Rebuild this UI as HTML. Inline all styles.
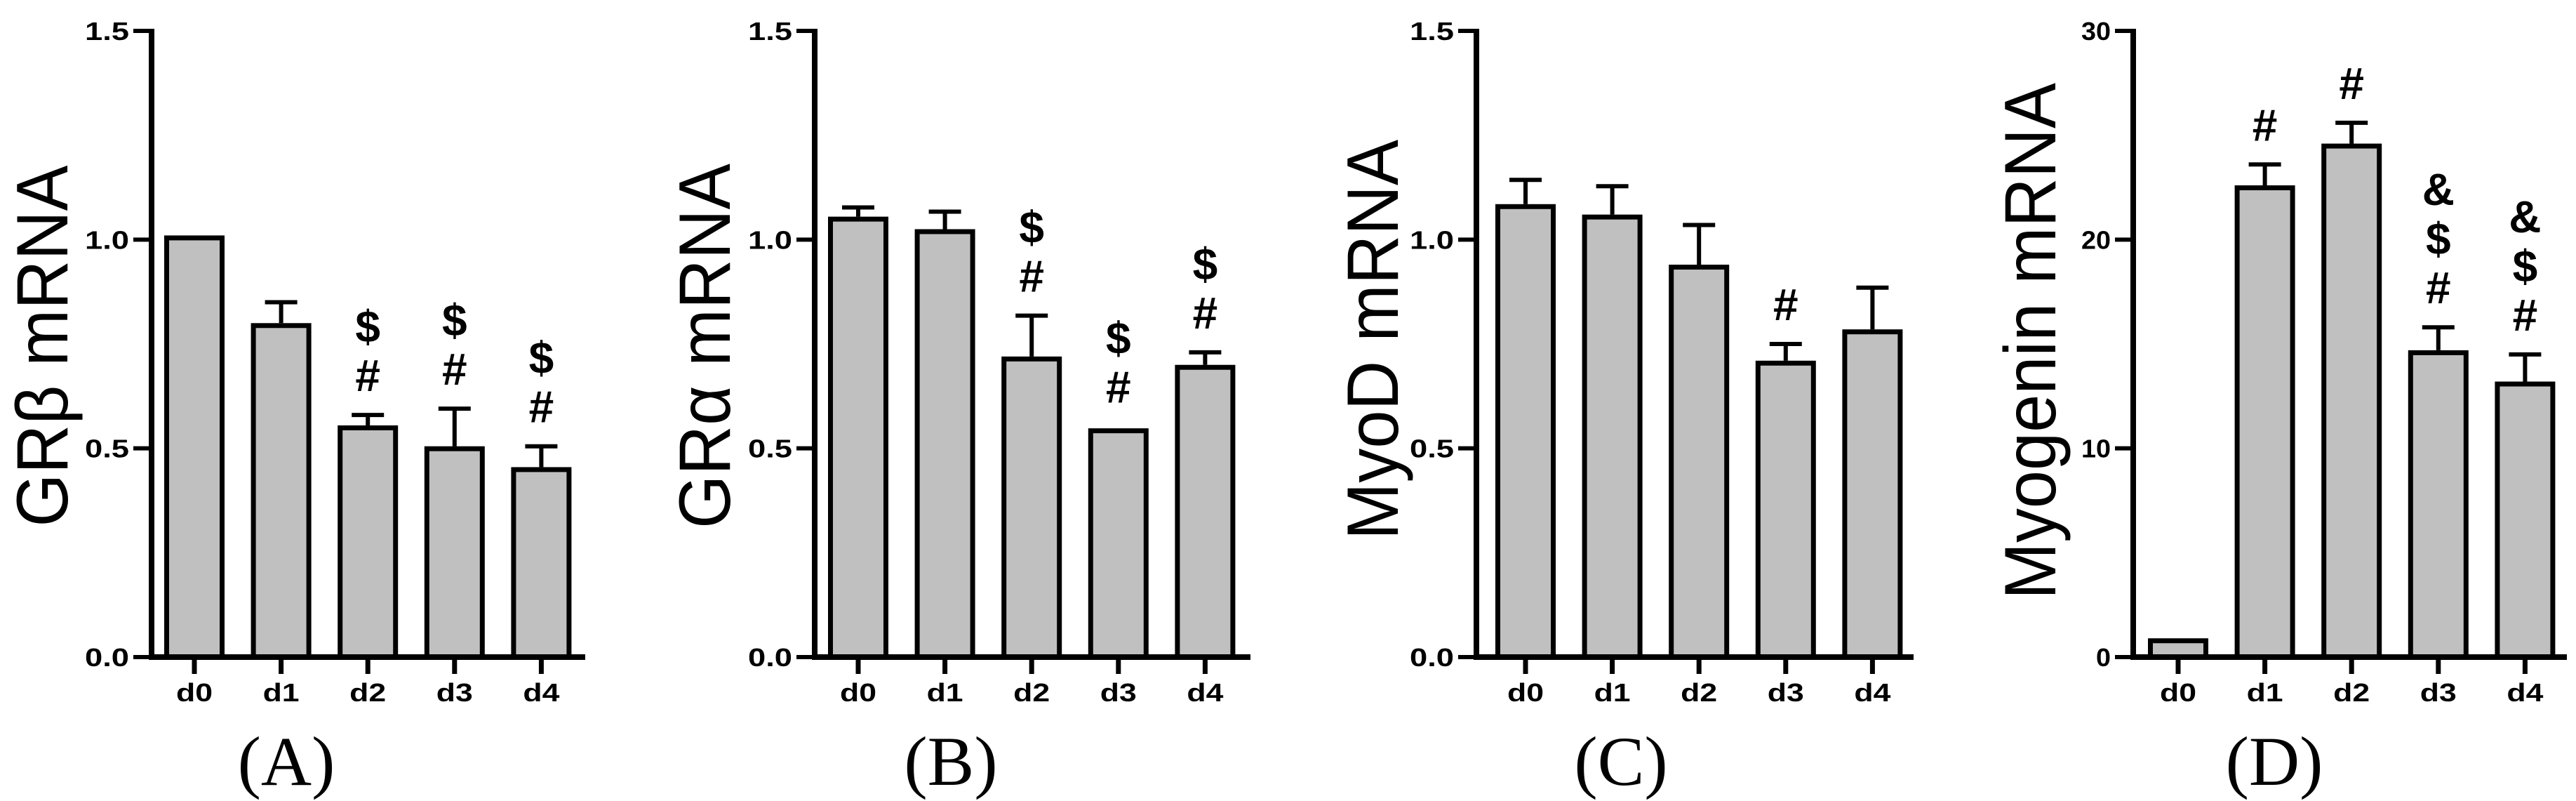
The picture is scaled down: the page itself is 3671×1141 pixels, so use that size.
<!DOCTYPE html>
<html><head><meta charset="utf-8"><style>
html,body{margin:0;padding:0;background:#fff;}
svg{display:block;}
</style></head><body>
<svg id="fig" width="3671" height="1141" viewBox="0 0 3671 1141" xmlns="http://www.w3.org/2000/svg"></svg>
<script>
const categories = ["d0","d1","d2","d3","d4"];
const valuesA = [1.01, 0.80, 0.555, 0.505, 0.455];
const errorsA = [0.005, 0.05, 0.025, 0.09, 0.05];
const marksA = ["", "", "#$", "#$", "#$"];
const valuesB = [1.055, 1.025, 0.72, 0.548, 0.70];
const errorsB = [0.022, 0.042, 0.098, 0.004, 0.03];
const marksB = ["", "", "#$", "#$", "#$"];
const valuesC = [1.085, 1.06, 0.94, 0.71, 0.785];
const errorsC = [0.058, 0.068, 0.095, 0.04, 0.1];
const marksC = ["", "", "", "#", ""];
const valuesD = [0.9, 22.6, 24.6, 14.7, 13.2];
const errorsD = [0.05, 1.0, 1.0, 1.1, 1.3];
const marksD = ["", "#", "#", "#$&", "#$&"];
const ticksGR = ["0.0","0.5","1.0","1.5"];
const tickValsGR = [0, 0.5, 1.0, 1.5];
const ticksD = ["0","10","20","30"];
const tickValsD = [0, 10, 20, 30];

const NS = "http://www.w3.org/2000/svg";
const svg = document.getElementById('fig');
function mk(tag, attrs, parent){
  const e = document.createElementNS(NS, tag);
  for (const k in attrs) e.setAttribute(k, attrs[k]);
  (parent||svg).appendChild(e);
  return e;
}
const Y0 = 936, YTOP = 44;

function panel(cfg){
  const g = mk('g', {});
  
  
  const yScale = v => Y0 - (v / cfg.max) * (Y0 - YTOP);
  const xLeft = i => cfg.bar0 + i * 123.6;
  const W = 86;
  // bars
  cfg.values.forEach((v, i) => {
    const x = xLeft(i), y = yScale(v), e = cfg.errors[i];
    const ey = yScale(v + e);
    const cx = x + W/2;
    if (e > 0.01 * cfg.max) {
      const el = mk('line', {x1:cx, x2:cx, y1:y, y2:ey, stroke:'#000','stroke-width':6}, g);
      
      
      const cap = mk('line', {x1:cx-23, x2:cx+23, y1:ey, y2:ey, stroke:'#000','stroke-width':6}, g);
      
      
    }
    const r = mk('rect', {x:x+3.5, y:y+3.5, width:W-7, height:Math.max(0, Y0-y-3.5), fill:'#c0c0c0', stroke:'#000','stroke-width':7}, g);
    
    
    // significance marks
    const m = cfg.marks[i];
    for (let k = 0; k < m.length; k++) {
      const t = mk('text', {x:cx, y:ey - 34 - k*70, 'text-anchor':'middle', 'font-family':'Liberation Sans, sans-serif', 'font-weight':'bold', 'font-size':64}, g);
      t.textContent = m[k];
      
      
    }
    // category tick + label
    const tk = mk('line', {x1:cx, x2:cx, y1:Y0, y2:960, stroke:'#000','stroke-width':7}, g);
    
    
    const lb = mk('text', {x:cx, y:999, 'text-anchor':'middle', 'font-family':'Liberation Sans, sans-serif', 'font-weight':'bold', 'font-size':36, textLength:52, lengthAdjust:'spacingAndGlyphs'}, g);
    lb.textContent = categories[i];
    
    
  });
  // axes
  const ya = mk('line', {x1:cfg.axis, x2:cfg.axis, y1:YTOP-3, y2:Y0+4, stroke:'#000','stroke-width':8}, g);
  
  
  const xa = mk('line', {x1:cfg.axis-4, x2:cfg.xend, y1:Y0, y2:Y0, stroke:'#000','stroke-width':8}, g);
  
  
  cfg.tickVals.forEach((tv, j) => {
    const y = yScale(tv);
    const t = mk('line', {x1:cfg.axis-26, x2:cfg.axis, y1:y, y2:y, stroke:'#000','stroke-width':6}, g);
    
    
    const txt = cfg.ticks[j];
    const tl = mk('text', {x:cfg.axis-32, y:y+13, 'text-anchor':'end', 'font-family':'Liberation Sans, sans-serif', 'font-weight':'bold', 'font-size':36, textLength: txt.length*21, lengthAdjust:'spacingAndGlyphs'}, g);
    tl.textContent = txt;
    
    
  });
  // y title
  const yt = mk('text', {x:0, y:0, transform:`translate(${cfg.titleX + 37},${cfg.titleY}) rotate(-90)`, 'text-anchor':'middle', 'font-family':'Liberation Sans, sans-serif', 'font-size':104, textLength:cfg.titleLen, lengthAdjust:'spacingAndGlyphs'}, g);
  yt.textContent = cfg.title;
  
  
  const pl = mk('text', {x:cfg.letterX, y:1118, 'text-anchor':'middle', 'font-family':'Liberation Serif, serif', 'font-size':100}, g);
  pl.textContent = cfg.letter;
  
  
}

panel({name:'panel-a-gr-beta', values:valuesA, errors:errorsA, marks:marksA, max:1.5, ticks:ticksGR, tickVals:tickValsGR, axis:216, bar0:234, xend:834, title:'GRβ mRNA', titleX:59, titleY:493, titleLen:515, letter:'(A)', letterX:408});
panel({name:'panel-b-gr-alpha', values:valuesB, errors:errorsB, marks:marksB, max:1.5, ticks:ticksGR, tickVals:tickValsGR, axis:1161, bar0:1180, xend:1782, title:'GRα mRNA', titleX:1003, titleY:493, titleLen:520, letter:'(B)', letterX:1355});
panel({name:'panel-c-myod', values:valuesC, errors:errorsC, marks:marksC, max:1.5, ticks:ticksGR, tickVals:tickValsGR, axis:2104, bar0:2131, xend:2727, title:'MyoD mRNA', titleX:1955, titleY:484, titleLen:570, letter:'(C)', letterX:2310});
panel({name:'panel-d-myogenin', values:valuesD, errors:errorsD, marks:marksD, max:30, ticks:ticksD, tickVals:tickValsD, axis:3040, bar0:3061, xend:3658, title:'Myogenin mRNA', titleX:2892, titleY:486, titleLen:736, letter:'(D)', letterX:3241});
</script>
</body></html>
